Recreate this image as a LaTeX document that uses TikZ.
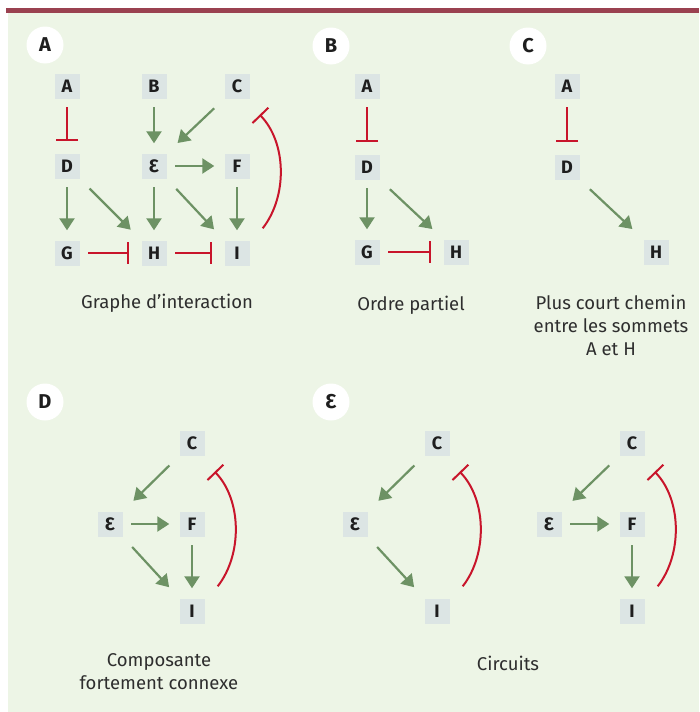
\documentclass[tikz,border=0pt]{standalone}
\usepackage{fontspec}
\setmainfont{Fira Sans}
\usetikzlibrary{arrows.meta}
\definecolor{bg}{HTML}{EDF5E6}
\definecolor{barc}{HTML}{9A4150}
\definecolor{nodebg}{HTML}{DCE5E4}
\definecolor{actc}{HTML}{6D9264}
\definecolor{inhc}{HTML}{C8152B}
\definecolor{txt}{HTML}{1E1E1E}
\definecolor{captc}{HTML}{2E2E2E}
\tikzset{
  nd/.style={fill=nodebg, minimum size=25pt, inner sep=0pt, text=txt,
    font=\bfseries\fontsize{18}{18}\selectfont},
  panel/.style={circle, fill=white, minimum size=37pt, inner sep=0pt, text=txt,
    font=\bfseries\fontsize{20}{20}\selectfont},
  capt/.style={align=center, text=captc, font=\fontsize{18.5}{23}\selectfont},
  act/.style={draw=actc, line width=2.2pt, -{Triangle[length=12pt,width=15pt]}},
  inh/.style={draw=inhc, line width=2pt, -{Bar[width=22pt,line width=2pt]}},
  straight/.style={shorten <=8.5pt, shorten >=10pt},
  diag/.style={shorten <=14pt, shorten >=15pt},
  inhs/.style={shorten <=8.5pt, shorten >=12pt},
}
\newcommand{\loopinh}[2]{\draw[inh] ([shift={(13,-12)}]#1.north east) .. controls +(25,-32) and +(27,28) .. ([shift={(10,16)}]#2.south east);}
\begin{document}
\begin{tikzpicture}[x=1pt,y=-1pt]
\useasboundingbox (0,0) rectangle (699,712);
\fill[bg] (8,13) rectangle (699,712);
\fill[barc] (6,8) rectangle (699,13);

% Panel A
\node[panel] (pA) at (45,45) {A};
\node[nd] (aA) at (67,86) {A};
\node[nd] (aB) at (154,86) {B};
\node[nd] (aC) at (237,86) {C};
\node[nd] (aD) at (67,166) {D};
\node[nd] (aE) at (154,166) {Ɛ};
\node[nd] (aF) at (237,166) {F};
\node[nd] (aG) at (67,253) {G};
\node[nd] (aH) at (154,253) {H};
\node[nd] (aI) at (237,253) {I};
\draw[inh, inhs] (aA) -- (aD);
\draw[act, straight] (aB) -- (aE);
\draw[act, diag] (aC.south west) -- (aE.north east);
\draw[act, straight] (aE) -- (aF);
\draw[act, straight] (aD) -- (aG);
\draw[act, diag] (aD.south east) -- (aH.north west);
\draw[act, straight] (aE) -- (aH);
\draw[act, diag] (aE.south east) -- (aI.north west);
\draw[act, straight] (aF) -- (aI);
\draw[inh, inhs] (aG) -- (aH);
\draw[inh, inhs] (aH) -- (aI);
\loopinh{aI}{aC}
\node[capt] (cA) at (167,303) {Graphe d’interaction};

% Panel B
\node[panel] (pB) at (331,46) {B};
\node[nd] (bA) at (367,86) {A};
\node[nd] (bD) at (367,167) {D};
\node[nd] (bG) at (367,252) {G};
\node[nd] (bH) at (456,252) {H};
\draw[inh, inhs] (bA) -- (bD);
\draw[act, straight] (bD) -- (bG);
\draw[act, diag] (bD.south east) -- (bH.north west);
\draw[inh, inhs] (bG) -- (bH);
\node[capt] (cB) at (411,305) {Ordre partiel};

% Panel C
\node[panel] (pC) at (528,46) {C};
\node[nd] (cAn) at (567,86) {A};
\node[nd] (cD) at (567,167) {D};
\node[nd] (cH) at (656,252) {H};
\draw[inh, inhs] (cAn) -- (cD);
\draw[act, diag] (cD.south east) -- (cH.north west);
\node[capt, anchor=north] (cC) at (611,292) {Plus court chemin\\entre les sommets\\A et H};

% Panel D
\node[panel] (pD) at (45,402) {D};
\node[nd] (dC) at (192,443) {C};
\node[nd] (dE) at (110,524) {Ɛ};
\node[nd] (dF) at (192,524) {F};
\node[nd] (dI) at (192,611) {I};
\draw[act, diag] (dC.south west) -- (dE.north east);
\draw[act, straight] (dE) -- (dF);
\draw[act, diag] (dE.south east) -- (dI.north west);
\draw[act, straight] (dF) -- (dI);
\loopinh{dI}{dC}
\node[capt, anchor=north] (cD2) at (159,650) {Composante\\fortement connexe};

% Panel E
\node[panel] (pE) at (331,402) {Ɛ};
\node[nd] (eC) at (437,443) {C};
\node[nd] (eE) at (355,524) {Ɛ};
\node[nd] (eI) at (437,611) {I};
\draw[act, diag] (eC.south west) -- (eE.north east);
\draw[act, diag] (eE.south east) -- (eI.north west);
\loopinh{eI}{eC}
\node[nd] (fC) at (632,443) {C};
\node[nd] (fE) at (549,524) {Ɛ};
\node[nd] (fF) at (632,524) {F};
\node[nd] (fI) at (632,611) {I};
\draw[act, diag] (fC.south west) -- (fE.north east);
\draw[act, straight] (fE) -- (fF);
\draw[act, straight] (fF) -- (fI);
\loopinh{fI}{fC}
\node[capt] (cE) at (508,663) {Circuits};
\end{tikzpicture}
\end{document}
